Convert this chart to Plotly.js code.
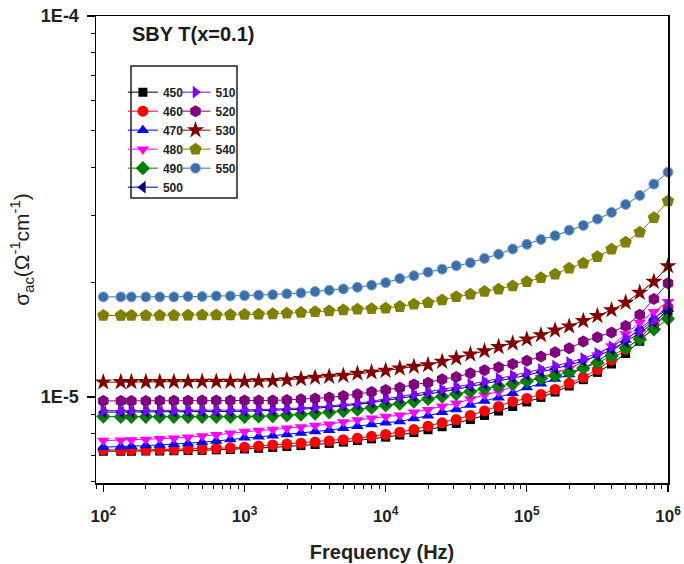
<!DOCTYPE html>
<html>
<head>
<meta charset="utf-8">
<script src="https://cdn.plot.ly/plotly-3.0.1.min.js"></script>
<style>html,body{margin:0;padding:0;background:#fff;}#chart{width:684px;height:564px;}</style>
</head>
<body>
<div id="chart"></div>
<script>
// Frequencies (Hz)
const freq = [100, 133, 158, 200, 251, 316, 398, 501, 631, 794,
  1000, 1259, 1585, 1995, 2512, 3162, 3981, 5012, 6310, 7943,
  10000, 12589, 15849, 19953, 25119, 31623, 39811, 50119, 63096, 79433,
  100000, 125893, 158489, 199526, 251189, 316228, 398107, 501187, 630957, 794328, 1000000];

// Conductivity values in units of 1e-5 (Ω^-1 cm^-1)
const UNIT = 1e-5;
const s450 = [0.720,0.720,0.720,0.721,0.721,0.722,0.723,0.724,0.726,0.728,
  0.730,0.733,0.737,0.741,0.745,0.750,0.755,0.761,0.768,0.776,
  0.784,0.794,0.806,0.820,0.835,0.852,0.872,0.894,0.918,0.944,
  0.970,0.997,1.030,1.068,1.110,1.160,1.220,1.300,1.400,1.520,1.680];
const s460 = [0.726,0.724,0.726,0.726,0.727,0.728,0.729,0.731,0.733,0.735,
  0.738,0.743,0.748,0.752,0.756,0.761,0.766,0.772,0.779,0.788,
  0.797,0.808,0.821,0.838,0.855,0.872,0.894,0.919,0.944,0.973,
  0.991,1.015,1.046,1.086,1.126,1.180,1.250,1.334,1.429,1.545,1.713];
const s470 = [0.738,0.740,0.742,0.745,0.748,0.751,0.755,0.760,0.766,0.773,
  0.781,0.786,0.791,0.797,0.804,0.811,0.818,0.827,0.838,0.847,
  0.856,0.862,0.878,0.892,0.911,0.927,0.952,0.975,0.995,1.023,
  1.058,1.083,1.114,1.145,1.191,1.242,1.311,1.410,1.512,1.612,1.700];
const s480 = [0.768,0.770,0.771,0.773,0.776,0.779,0.784,0.789,0.795,0.803,
  0.811,0.816,0.821,0.827,0.834,0.841,0.848,0.859,0.870,0.879,
  0.888,0.895,0.911,0.926,0.945,0.962,0.988,1.012,1.032,1.062,
  1.098,1.124,1.156,1.188,1.236,1.289,1.361,1.463,1.569,1.673,1.778];
const s490 = [0.888,0.887,0.887,0.887,0.887,0.887,0.887,0.887,0.887,0.887,
  0.887,0.889,0.891,0.895,0.899,0.904,0.911,0.918,0.926,0.937,
  0.950,0.960,0.972,0.988,1.002,1.017,1.033,1.050,1.066,1.083,
  1.100,1.118,1.138,1.160,1.190,1.230,1.280,1.345,1.417,1.505,1.604];
const s500 = [0.912,0.912,0.912,0.913,0.913,0.914,0.914,0.915,0.915,0.916,
  0.917,0.919,0.921,0.924,0.928,0.933,0.939,0.946,0.955,0.966,
  0.978,0.990,1.003,1.017,1.031,1.047,1.064,1.081,1.100,1.120,
  1.140,1.162,1.186,1.212,1.243,1.280,1.330,1.395,1.470,1.570,1.690];
const s510 = [0.920,0.920,0.920,0.921,0.921,0.922,0.922,0.923,0.923,0.924,
  0.924,0.926,0.928,0.931,0.935,0.940,0.946,0.953,0.962,0.974,
  0.988,1.000,1.015,1.030,1.045,1.062,1.080,1.098,1.118,1.138,
  1.160,1.182,1.206,1.232,1.263,1.302,1.355,1.425,1.490,1.593,1.744];
const s520 = [0.976,0.976,0.976,0.976,0.977,0.977,0.977,0.978,0.978,0.978,
  0.978,0.978,0.979,0.982,0.986,0.990,0.996,1.006,1.016,1.030,
  1.043,1.057,1.078,1.090,1.113,1.128,1.154,1.175,1.197,1.220,
  1.245,1.276,1.310,1.342,1.398,1.435,1.477,1.536,1.644,1.808,1.988];
const s530 = [1.093,1.095,1.095,1.095,1.095,1.096,1.096,1.097,1.097,1.097,
  1.098,1.100,1.102,1.108,1.115,1.124,1.131,1.138,1.152,1.161,
  1.172,1.189,1.201,1.213,1.238,1.264,1.294,1.320,1.353,1.383,
  1.417,1.454,1.496,1.533,1.583,1.632,1.691,1.768,1.878,2.007,2.207];
const s540 = [1.635,1.635,1.635,1.635,1.635,1.637,1.638,1.640,1.640,1.642,
  1.645,1.648,1.652,1.658,1.665,1.674,1.682,1.690,1.698,1.705,
  1.710,1.726,1.750,1.768,1.797,1.833,1.860,1.890,1.917,1.956,
  2.007,2.056,2.100,2.177,2.244,2.335,2.442,2.547,2.705,2.955,3.270];
const s550 = [1.830,1.830,1.830,1.830,1.830,1.830,1.835,1.835,1.840,1.840,
  1.845,1.850,1.855,1.865,1.875,1.890,1.905,1.920,1.940,1.965,
  1.995,2.045,2.080,2.125,2.165,2.210,2.250,2.310,2.370,2.445,
  2.515,2.590,2.650,2.740,2.820,2.930,3.050,3.200,3.380,3.620,3.890];

const names = ['450','460','470','480','490','500','510','520','530','540','550'];
const seriesVals = [s450,s460,s470,s480,s490,s500,s510,s520,s530,s540,s550];
const colors = ['#000000','#ff0000','#0000ff','#ff00ff','#008000','#000080','#8000ff','#800080','#800000','#808000','#3a6ea8'];
const symbols = ['square','circle','triangle-up','triangle-down','diamond','triangle-left','triangle-right','hexagon','star','pentagon','circle'];
const sizes = [9,11,11,11,11,11,11,12,13,13,10];

const xTickVals = [1e2,1e3,1e4,1e5,1e6];
const xTickText = ['10<sup>2</sup>','10<sup>3</sup>','10<sup>4</sup>','10<sup>5</sup>','10<sup>6</sup>'];
const xMinorVals = [90,200,300,400,500,600,700,800,900,2000,3000,4000,5000,6000,7000,8000,9000,
  2e4,3e4,4e4,5e4,6e4,7e4,8e4,9e4,2e5,3e5,4e5,5e5,6e5,7e5,8e5,9e5];
const yTickVals = [1e-5,1e-4];
const yTickText = ['1E-5','1E-4'];
const yMinorVals = [6e-6,7e-6,8e-6,9e-6,2e-5,3e-5,4e-5,5e-5,6e-5,7e-5,8e-5,9e-5];

const FONT = 'Liberation Sans, Arial, sans-serif';

const traces = names.map((n,i)=>({
  x: freq,
  y: seriesVals[i].map(v=>v*UNIT),
  name: n,
  type: 'scatter',
  mode: 'lines+markers',
  cliponaxis: false,
  line: {color: colors[i], width: 1},
  marker: {symbol: symbols[i], size: sizes[i], color: colors[i],
    line: {width: i===10 ? 1 : 0, color: i===10 ? '#7fa6d4' : colors[i]}},
  legend: i < 6 ? 'legend' : 'legend2'
}));

const legendCommon = {
  bgcolor: 'rgba(0,0,0,0)', borderwidth: 0,
  font: {family: FONT, size: 12, color: '#222', weight: 'bold'},
  xanchor: 'left', yanchor: 'top', orientation: 'v', tracegroupgap: 0, itemwidth: 30
};

const layout = {
  width: 684, height: 564,
  margin: {l: 96, r: 16, t: 16, b: 81},
  paper_bgcolor: '#fff', plot_bgcolor: '#fff',
  showlegend: true,
  font: {family: FONT, color: '#222'},
  xaxis: {
    type: 'log', range: [1.948, 6.0],
    tickvals: xTickVals, ticktext: xTickText,
    ticks: 'outside', ticklen: 7, tickwidth: 1.2, tickcolor: '#000',
    minor: {tickmode: 'array', tickvals: xMinorVals, ticks: 'outside', ticklen: 4, tickwidth: 1, tickcolor: '#000', showgrid: false},
    showline: true, linecolor: '#000', linewidth: 1.5, mirror: true,
    showgrid: false, zeroline: false,
    tickfont: {family: FONT, size: 17, color: '#222', weight: 'bold'},
    ticklabelstandoff: 10,
    title: {text: 'Frequency (Hz)', font: {family: FONT, size: 20, color: '#222', weight: 'bold'}, standoff: 20}
  },
  yaxis: {
    type: 'log', range: [-5.226, -4.0],
    tickvals: yTickVals, ticktext: yTickText,
    ticks: 'outside', ticklen: 8, tickwidth: 1.2, tickcolor: '#000',
    minor: {tickmode: 'array', tickvals: yMinorVals, ticks: 'outside', ticklen: 4, tickwidth: 1, tickcolor: '#000', showgrid: false},
    showline: true, linecolor: '#000', linewidth: 1.5, mirror: true,
    showgrid: false, zeroline: false,
    tickfont: {family: FONT, size: 18, color: '#222', weight: 'bold'},
    ticklabelstandoff: 4,
    title: {text: 'σ<sub>ac</sub>(Ω<sup>-1</sup>cm<sup>-1</sup>)', font: {family: FONT, size: 21, color: '#222'}, standoff: 5}
  },
  legend: Object.assign({}, legendCommon, {x: 0.047, y: 0.868}),
  legend2: Object.assign({}, legendCommon, {x: 0.139, y: 0.868}),
  shapes: [{type: 'rect', xref: 'paper', yref: 'paper', x0: 0.0612, x1: 0.2465, y0: 0.6103, y1: 0.893,
    line: {color: '#222', width: 1.5}, fillcolor: 'rgba(0,0,0,0)'}],
  annotations: [{text: 'SBY T(x=0.1)', xref: 'paper', yref: 'paper', x: 0.059, y: 0.961,
    xanchor: 'left', yanchor: 'middle', showarrow: false,
    font: {family: FONT, size: 20, color: '#1a1a1a', weight: 'bold'}}]
};

Plotly.newPlot('chart', traces, layout, {displayModeBar: false, staticPlot: true});
</script>
</body>
</html>
